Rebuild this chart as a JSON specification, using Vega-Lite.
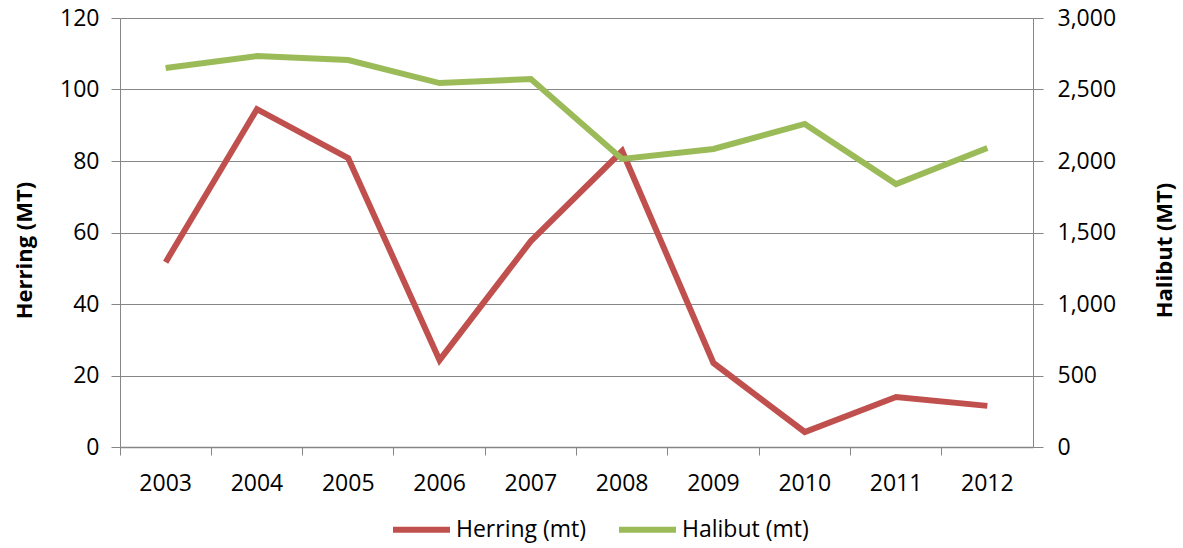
{
  "$schema": "https://vega.github.io/schema/vega-lite/v6.json",
  "autosize": "none",
  "width": 913,
  "height": 429,
  "padding": {"left": 120, "top": 18, "right": 150, "bottom": 101},
  "background": "white",
  "config": {
    "font": "Open Sans",
    "view": {"stroke": null},
    "axis": {"labelFont": "Open Sans", "titleFont": "Open Sans", "labelColor": "black", "titleColor": "black", "domainColor": "#868686", "tickColor": "#868686", "gridColor": "#868686", "labelFontSize": 23, "titleFontSize": 22, "titleFontWeight": "bold"}
  },
  "data": {
    "values": [
      {"year": "2003", "herring": 51.7, "halibut": 2650},
      {"year": "2004", "herring": 94.5, "halibut": 2734},
      {"year": "2005", "herring": 80.8, "halibut": 2706},
      {"year": "2006", "herring": 24.3, "halibut": 2545},
      {"year": "2007", "herring": 57.6, "halibut": 2573},
      {"year": "2008", "herring": 82.8, "halibut": 2014},
      {"year": "2009", "herring": 23.5, "halibut": 2084},
      {"year": "2010", "herring": 4.2, "halibut": 2259},
      {"year": "2011", "herring": 14.0, "halibut": 1839},
      {"year": "2012", "herring": 11.5, "halibut": 2091}
    ]
  },
  "layer": [
    {
      "mark": {"type": "line", "strokeWidth": 6, "strokeCap": "butt", "strokeJoin": "miter"},
      "encoding": {
        "x": {"field": "year", "type": "nominal", "bandPosition": 0.5,
          "scale": {"type": "band", "paddingInner": 0, "paddingOuter": 0},
          "axis": {"title": null, "labelAngle": 0, "bandPosition": 0, "tickSize": 8, "labelPadding": 17, "grid": false, "domainWidth": 1.5}},
        "y": {"field": "herring", "type": "quantitative",
          "scale": {"domain": [0, 120], "nice": false},
          "axis": {"title": "Herring (MT)", "values": [0, 20, 40, 60, 80, 100, 120], "tickSize": 9, "labelPadding": 12, "grid": true, "titleX": -96, "titleY": 232, "titleBaseline": "middle", "titleAngle": 270}},
        "color": {"datum": "Herring (mt)", "type": "nominal",
          "scale": {"domain": ["Herring (mt)", "Halibut (mt)"], "range": ["#C0504D", "#9BBB59"]},
          "legend": {"title": null, "orient": "none", "legendX": 270, "legendY": 480, "direction": "horizontal", "symbolType": "stroke", "symbolSize": 3249, "symbolStrokeWidth": 6, "labelFontSize": 23, "labelFont": "Open Sans", "labelColor": "black", "labelOffset": 3, "columnPadding": 20}}
      }
    },
    {
      "mark": {"type": "line", "strokeWidth": 6, "strokeCap": "butt", "strokeJoin": "miter"},
      "encoding": {
        "x": {"field": "year", "type": "nominal", "bandPosition": 0.5},
        "y": {"field": "halibut", "type": "quantitative",
          "scale": {"domain": [0, 3000], "nice": false},
          "axis": {"title": "Halibut (MT)", "orient": "right", "values": [0, 500, 1000, 1500, 2000, 2500, 3000], "format": ",.0f", "tickSize": 10, "labelPadding": 14, "grid": false, "titleX": 131, "titleY": 232, "titleBaseline": "middle", "titleAngle": 270}},
        "color": {"datum": "Halibut (mt)", "type": "nominal"}
      }
    }
  ],
  "resolve": {"scale": {"y": "independent"}}
}
